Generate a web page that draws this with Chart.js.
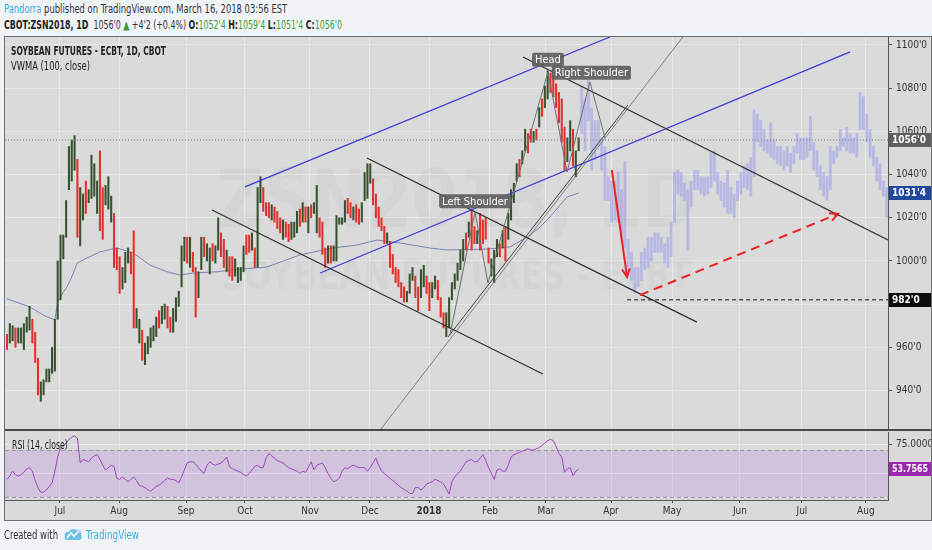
<!DOCTYPE html>
<html>
<head>
<meta charset="utf-8">
<title>ZSN2018, 1D</title>
<script src="https://cdn.jsdelivr.net/npm/chart.js@4.4.1/dist/chart.umd.min.js"></script>
<style>
  html, body { margin: 0; padding: 0; }
  body { width: 932px; height: 550px; background: #f1f4f7; position: relative; overflow: hidden;
         font-family: 'Liberation Sans Narrow', 'DejaVu Sans Condensed', 'Liberation Sans', sans-serif; color: #333; }
  .t { position: absolute; display: inline-block; white-space: nowrap; transform-origin: 0 0; font-size: 12px; line-height: 14px; z-index: 5; }
  #frame { position: absolute; left: 4px; top: 36px; width: 926px; height: 483px; border: 1px solid #6e6e6e; background: #dadada; }
  .pane { position: absolute; left: 5px; width: 926px; }
  #mainBox { top: 37px; height: 392px; }
  #rsiBox { top: 431px; height: 89px; }
  #sep { position: absolute; left: 5px; top: 429px; width: 926px; height: 2px; background: #4a4a4a; z-index: 3; }
  .g { color: #3a9d3a; }
  .b { font-weight: bold; color: #222; }
</style>
</head>
<body>
<div class="t" id="line1" style="left:4px;top:2px;"><span style="color:#3aaee0">Pandorra</span> published on TradingView.com, March 16, 2018 03:56 EST</div>
<div class="t" id="line2" style="left:4px;top:18px;"><span class="b">CBOT:ZSN2018, 1D</span>&nbsp; 1056'0 <span class="g">&#9650;</span> +4'2 (+0.4%) <span class="b">O:</span><span class="g">1052'4</span> <span class="b">H:</span><span class="g">1059'4</span> <span class="b">L:</span><span class="g">1051'4</span> <span class="b">C:</span><span class="g">1056'0</span></div>

<div id="frame"></div>
<div class="pane" id="mainBox"><canvas id="mainChart"></canvas></div>
<div id="sep"></div>
<div class="pane" id="rsiBox"><canvas id="rsiChart"></canvas></div>

<div class="t b" id="title" style="left:11px;top:44px;">SOYBEAN FUTURES - ECBT, 1D, CBOT</div>
<div class="t" id="vwmaLbl" style="left:11px;top:59px;color:#222">VWMA (100, close)</div>
<div class="t" id="rsiLbl" style="left:12px;top:438px;color:#222">RSI (14, close)</div>

<div class="t" id="created" style="left:4px;top:528px;color:#333">Created with</div>
<svg style="position:absolute;left:64px;top:527px" width="19" height="15" viewBox="0 0 19 15">
  <path d="M4 13 C1 13 0 11 1 9 C0 6 3 4 5 5 C6 2 10 1 12 3 C15 2 18 5 17 8 C19 10 17 13 15 13 Z" fill="#6cc3ea"/>
  <path d="M3 11 L7 6 L10 9 L15 4" stroke="#fff" stroke-width="1.6" fill="none"/>
</svg>
<div class="t" id="tvName" style="left:86px;top:528px;color:#3aaee0">TradingView</div>

<script>
const FONT = "'Liberation Sans Narrow', 'DejaVu Sans Condensed', 'Liberation Sans', sans-serif";

// ---- data (daily bars, CBOT:ZSN2018) ----
const highs = [
  966, 971, 970, 969, 969, 969, 971, 974, 979, 973,
  967, 955, 944, 945, 950, 950, 960, 973, 1000, 1012,
  1012, 1028, 1053, 1056, 1058, 1047, 1034, 1031, 1037, 1033,
  1049, 1045, 1037, 1051, 1034, 1035, 1039, 1030, 1022, 1006,
  1002, 997, 1004, 1006, 1004, 1014, 978, 973, 968, 962,
  965, 969, 970, 974, 977, 979, 980, 979, 974, 978,
  983, 986, 1007, 1011, 1011, 1011, 1004, 997, 995, 1011,
  1011, 1008, 1006, 1008, 1007, 1020, 1013, 1010, 1005, 1002,
  1002, 1001, 997, 997, 1007, 1012, 1012, 1013, 1006, 1034,
  1039, 1034, 1027, 1027, 1026, 1025, 1023, 1020, 1019, 1018,
  1017, 1018, 1018, 1023, 1024, 1027, 1025, 1025, 1026, 1027,
  1035, 1020, 1018, 1006, 1007, 1007, 1007, 1021, 1020, 1020,
  1028, 1029, 1027, 1025, 1026, 1024, 1027, 1041, 1045, 1045,
  1038, 1031, 1025, 1020, 1016, 1013, 1009, 1003, 997, 996,
  990, 988, 986, 994, 997, 993, 988, 996, 998, 993,
  990, 990, 993, 991, 983, 976, 976, 983, 990, 994,
  999, 1005, 1010, 1013, 1018, 1024, 1016, 1014, 1022, 1019,
  1020, 1006, 1001, 1005, 1010, 1008, 1014, 1016, 1022, 1033,
  1036, 1045, 1047, 1051, 1061, 1059, 1061, 1060, 1061, 1071,
  1075, 1081, 1088, 1087, 1086, 1082, 1078, 1075, 1062, 1057,
  1065, 1061, 1051, 1057
];
const lows = [
  959, 962, 963, 960, 962, 962, 959, 967, 968, 962,
  953, 938, 935, 938, 944, 944, 948, 949, 973, 982,
  1001, 1011, 1033, 1037, 1042, 1011, 1007, 1019, 1022, 1027,
  1029, 1030, 1022, 1014, 1010, 1026, 1024, 1018, 997, 996,
  985, 987, 990, 999, 994, 969, 969, 962, 954, 952,
  957, 960, 963, 965, 969, 971, 973, 969, 967, 967,
  972, 979, 988, 1000, 999, 997, 995, 974, 983, 996,
  1002, 1000, 994, 1000, 999, 1005, 1002, 997, 995, 993,
  991, 993, 990, 991, 995, 1003, 1004, 1005, 997, 997,
  1027, 1023, 1021, 1020, 1019, 1018, 1015, 1013, 1010, 1011,
  1009, 1010, 1011, 1013, 1016, 1018, 1018, 1013, 1020, 1022,
  1013, 1011, 1003, 997, 999, 999, 1000, 1000, 1017, 1017,
  1018, 1022, 1020, 1019, 1018, 1017, 1018, 1028, 1029, 1036,
  1026, 1020, 1016, 1014, 1008, 1008, 997, 994, 990, 988,
  983, 981, 981, 985, 991, 983, 977, 983, 988, 985,
  977, 983, 987, 982, 974, 969, 965, 969, 982, 987,
  991, 996, 1000, 1005, 1011, 1005, 1008, 1008, 1005, 1008,
  1010, 999, 993, 990, 1002, 1002, 1006, 1000, 1010, 1019,
  1027, 1037, 1039, 1045, 1051, 1050, 1055, 1055, 1056, 1062,
  1067, 1071, 1075, 1078, 1076, 1071, 1064, 1055, 1042, 1046,
  1051, 1044, 1039, 1051
];
// 1 = bar closed up, 0 = closed down
const ups = [
  0, 1, 1, 0, 1, 1, 1, 1, 1, 0,
  0, 0, 1, 1, 1, 1, 1, 1, 1, 1,
  1, 1, 1, 1, 1, 0, 1, 1, 0, 1,
  1, 1, 1, 0, 0, 1, 1, 1, 0, 0,
  0, 1, 1, 1, 0, 0, 1, 1, 0, 1,
  1, 1, 1, 1, 0, 1, 1, 0, 0, 1,
  1, 1, 1, 1, 0, 1, 0, 0, 1, 1,
  0, 1, 1, 0, 1, 1, 0, 0, 1, 0,
  0, 1, 1, 1, 1, 0, 0, 1, 0, 1,
  1, 0, 0, 0, 1, 0, 0, 0, 1, 0,
  0, 1, 1, 1, 0, 1, 0, 1, 0, 1,
  1, 0, 0, 0, 1, 0, 1, 1, 1, 1,
  1, 0, 0, 1, 0, 0, 1, 1, 1, 1,
  0, 0, 0, 0, 0, 1, 0, 0, 0, 0,
  0, 0, 1, 1, 1, 0, 0, 1, 1, 0,
  0, 1, 1, 0, 0, 0, 1, 1, 1, 1,
  1, 1, 1, 0, 1, 0, 0, 1, 0, 0,
  0, 0, 1, 1, 1, 0, 1, 0, 1, 1,
  1, 1, 0, 1, 1, 0, 0, 1, 0, 1,
  0, 1, 1, 0, 0, 0, 0, 0, 0, 1,
  1, 0, 1, 1
];

// projected "ghost" bars pattern after the last real bar
const ghostHighs = [
  1081, 1075, 1084, 1071, 1065, 1065, 1057, 1053, 1039, 1037,
  1037, 1041, 1033, 1046, 1010, 1004, 997, 997, 1004, 1006,
  1011, 1011, 1013, 1013, 1011, 1008, 1011, 1018, 1041, 1042,
  1041, 1036, 1033, 1037, 1042, 1042, 1039, 1039, 1039, 1050,
  1051, 1041, 1037, 1036, 1042, 1034, 1031, 1037, 1041, 1044,
  1045, 1048, 1070, 1068, 1065, 1061, 1056, 1064, 1056, 1053,
  1053, 1051, 1053, 1050, 1053, 1059, 1057, 1057, 1057, 1067,
  1055, 1051, 1044, 1041, 1039, 1053, 1051, 1053, 1061, 1057,
  1062, 1059, 1057, 1059, 1078, 1076, 1068, 1061, 1053, 1048,
  1045, 1037, 1034
];
const ghostLows = [
  1059, 1051, 1065, 1042, 1047, 1053, 1042, 1028, 1028, 1018,
  1019, 1018, 1011, 1006, 997, 991, 985, 988, 991, 996,
  997, 1000, 1004, 1004, 1004, 999, 997, 1002, 1018, 1031,
  1030, 1028, 1005, 1025, 1033, 1033, 1031, 1030, 1031, 1034,
  1037, 1031, 1028, 1025, 1022, 1022, 1020, 1028, 1031, 1034,
  1033, 1030, 1039, 1055, 1053, 1051, 1050, 1048, 1047, 1045,
  1044, 1042, 1044, 1041, 1045, 1050, 1047, 1047, 1048, 1051,
  1042, 1039, 1033, 1030, 1028, 1033, 1045, 1048, 1051, 1053,
  1051, 1050, 1050, 1048, 1061, 1061, 1055, 1048, 1044, 1037,
  1033, 1030, 1020
];

// VWMA (100, close), read at bar positions
const vwmaIdx = [0, 8.2, 12.8, 17, 18, 20, 21.3, 23, 24.9, 28.4, 33, 39, 44.8, 50.8, 56.8, 61.4, 66, 74.6, 79.2,
  92.3, 104, 115.8, 124.3, 131.4, 139.6, 150.2, 156.3, 170.5, 178.6, 184.7, 189.3, 192.8, 198.9, 203];
const vwmaVals = [982.5, 978.7, 975, 972.7, 981, 985.6, 988, 992.6, 999, 1001.4, 1004.2, 1006, 1003.7, 998.1, 995, 993.5, 994.4, 995, 995.8,
  997.2, 1002.8, 1006, 1007.4, 1009.7, 1008.3, 1006, 1005.1, 1005.5, 1006.5, 1011, 1015.7, 1020.4, 1029.6, 1031.5];

// RSI (14, close)
const rsiValues = [
  45, 48, 52, 49, 48, 49, 51, 54, 55, 52,
  44, 38, 34, 34, 36, 39, 42, 52, 64, 72,
  73, 76, 79, 81, 82, 80, 59, 62, 61, 60,
  63, 65, 66, 62, 57, 53, 55, 57, 56, 46,
  45, 47, 45, 43, 45, 47, 44, 40, 39, 38,
  36, 35, 37, 39, 40, 42, 44, 46, 45, 45,
  44, 42, 47, 53, 59, 60, 60, 58, 55, 52,
  50, 57, 60, 58, 57, 58, 59, 61, 64, 56,
  54, 53, 52, 51, 49, 48, 50, 53, 56, 57,
  55, 55, 63, 67, 65, 63, 61, 60, 59, 57,
  55, 54, 53, 52, 50, 52, 51, 55, 60, 53,
  57, 58, 59, 55, 50, 46, 43, 44, 46, 52,
  55, 54, 56, 57, 56, 55, 55, 55, 52, 55,
  59, 63, 57, 52, 50, 48, 46, 44, 42, 40,
  38, 36.5, 35, 33, 33, 38, 38, 36, 38, 41,
  42, 43, 45, 44, 43, 41, 37, 32.5, 43, 47,
  50, 52, 56, 60, 61, 62, 60, 60, 63, 66,
  61, 55, 50, 45, 53, 54, 52, 52, 57, 64,
  66, 67, 68, 69, 70, 71, 70, 70, 71, 72,
  74, 76, 78, 79, 78, 73, 67, 64, 51, 54,
  55, 48, 52, 53.7565
];

const monthLabels = ['Jul', 'Aug', 'Sep', 'Oct', 'Nov', 'Dec', '2018', 'Feb', 'Mar', 'Apr', 'May', 'Jun', 'Jul', 'Aug'];
const monthPos = [18.8, 39.8, 63.6, 84.5, 107.6, 128.9, 149.9, 171.5, 191.4, 214.5, 236.2, 260.3, 282.3, 305.0];
const priceTicks = [940, 960, 980, 1000, 1020, 1040, 1060, 1080, 1100];

const lastClose = 1056;
const lastVwma = 1031.5;
const targetLevel = 982;
const lastRsi = 53.7565;

// drawings on the chart, in [bar index, price]
const blueUpper = [[84.5, 1034.3], [214.1, 1103.7]];
const blueLower = [[111.2, 994.4], [299.4, 1096.8]];
const headLine = [[183.2, 1094.4], [312.9, 1009.7]];
const channelA = [[72.8, 1023.6], [190.3, 947.7]];
const channelB = [[127.8, 1047.7], [245, 971.7]];
const trendThin = [[132.5, 921.7], [240, 1103.7]];
const trendDark = [[156.6, 964.8], [220.5, 1072.2]];
const hsZigzag = [[157.3, 965.7], [166.2, 1022.7], [170.8, 989.8], [192.1, 1087.5], [198.9, 1041.2], [207, 1082.9], [212.4, 1056.9]];
const dropArrow = [[214.8, 1042.1], [220.2, 992.6]];
const riseArrow = [[224.8, 984.2], [295.1, 1021.8]];
const levelStart = 220.2;
const patternLabels = [
  { text: 'Left Shoulder', at: [166.2, 1027.6] },
  { text: 'Head', at: [192.1, 1093.2] },
  { text: 'Right Shoulder', at: [207.5, 1087.2] }
];

const X_MIN = -0.71, X_MAX = 312.86;
const ghostStart = 204.1, ghostStep = 1.177;

// ---- helpers ----
function px(chart, p) {
  return [chart.scales.x.getPixelForValue(p[0]), chart.scales.y.getPixelForValue(p[1])];
}
function path(ctx, chart, pts, color, width, dash) {
  ctx.save();
  ctx.strokeStyle = color;
  ctx.lineWidth = width;
  ctx.setLineDash(dash || []);
  ctx.beginPath();
  pts.forEach((p, i) => {
    const [X, Y] = px(chart, p);
    if (i) ctx.lineTo(X, Y); else ctx.moveTo(X, Y);
  });
  ctx.stroke();
  ctx.restore();
}
function arrowHead(ctx, chart, pts, color, width) {
  const [x1, y1] = px(chart, pts[0]);
  const [x2, y2] = px(chart, pts[1]);
  const a = Math.atan2(y2 - y1, x2 - x1);
  ctx.save();
  ctx.strokeStyle = color;
  ctx.lineWidth = width;
  ctx.beginPath();
  ctx.moveTo(x2 - 9 * Math.cos(a - 0.45), y2 - 9 * Math.sin(a - 0.45));
  ctx.lineTo(x2, y2);
  ctx.lineTo(x2 - 9 * Math.cos(a + 0.45), y2 - 9 * Math.sin(a + 0.45));
  ctx.stroke();
  ctx.restore();
}
function tag(ctx, scale, area, value, text, bg) {
  const y = Math.round(scale.getPixelForValue(value));
  ctx.save();
  ctx.fillStyle = bg;
  ctx.fillRect(area.right + 1, y - 7, 42, 14);
  ctx.fillStyle = '#fff';
  ctx.font = 'bold 10px ' + FONT;
  ctx.textBaseline = 'middle';
  const w = ctx.measureText(text).width;
  ctx.translate(area.right + 4, y + 0.5);
  if (w > 36) ctx.scale(36 / w, 1);
  ctx.fillText(text, 0, 0);
  ctx.restore();
}
function fmtPrice(v) {
  const whole = Math.floor(v);
  return whole + "'" + Math.round((v - whole) * 8);
}
// keep the plot area exactly where the panes are
function noPad(s) {
  s.paddingTop = 0; s.paddingBottom = 0; s.paddingLeft = 0; s.paddingRight = 0;
}

const mainOverlay = {
  id: 'mainOverlay',
  beforeDatasetsDraw(chart) {
    const { ctx, chartArea: a } = chart;
    const cx = (a.left + a.right) / 2 + 10;
    ctx.save();
    ctx.fillStyle = 'rgba(0,0,0,0.028)';
    ctx.textAlign = 'center';
    ctx.font = 'bold 80px ' + FONT;
    let w = ctx.measureText('ZSN2018, 1D').width;
    ctx.translate(cx, a.top + 190);
    ctx.scale(480 / w, 1);
    ctx.fillText('ZSN2018, 1D', 0, 0);
    ctx.restore();
    ctx.save();
    ctx.fillStyle = 'rgba(0,0,0,0.028)';
    ctx.textAlign = 'center';
    ctx.font = 'bold 40px ' + FONT;
    w = ctx.measureText('SOYBEAN FUTURES - ECBT').width;
    ctx.translate(cx, a.top + 252);
    ctx.scale(470 / w, 1);
    ctx.fillText('SOYBEAN FUTURES - ECBT', 0, 0);
    ctx.restore();
  },
  afterDatasetsDraw(chart) {
    const { ctx, chartArea: a } = chart;
    ctx.save();
    ctx.beginPath();
    ctx.rect(a.left, a.top, a.right - a.left, a.bottom - a.top);
    ctx.clip();
    path(ctx, chart, [[X_MIN, lastClose], [X_MAX, lastClose]], '#7a7a7a', 1, [1, 2]);
    path(ctx, chart, blueUpper, '#3a3ad8', 1.2);
    path(ctx, chart, blueLower, '#3a3ad8', 1.2);
    path(ctx, chart, headLine, '#2e2e2e', 1.2);
    path(ctx, chart, channelA, '#2e2e2e', 1.2);
    path(ctx, chart, channelB, '#2e2e2e', 1.2);
    path(ctx, chart, trendThin, '#6a6a6a', 0.8);
    path(ctx, chart, trendDark, '#444', 1);
    path(ctx, chart, hsZigzag, '#6e6e6e', 1);
    path(ctx, chart, [[levelStart, targetLevel], [X_MAX, targetLevel]], '#111', 1, [4, 3]);
    path(ctx, chart, dropArrow, '#ee2020', 2);
    arrowHead(ctx, chart, dropArrow, '#ee2020', 2);
    path(ctx, chart, riseArrow, '#ee2020', 2, [9, 6]);
    arrowHead(ctx, chart, riseArrow, '#ee2020', 2);
    ctx.restore();

    ctx.save();
    ctx.font = '11px ' + FONT;
    ctx.textAlign = 'center';
    ctx.textBaseline = 'middle';
    patternLabels.forEach(l => {
      const [X, Y] = px(chart, l.at);
      const w = ctx.measureText(l.text).width + 6;
      ctx.fillStyle = 'rgba(95,95,95,0.92)';
      ctx.beginPath();
      ctx.roundRect(X - w / 2, Y - 7, w, 14, 2);
      ctx.fill();
      ctx.fillStyle = '#fff';
      ctx.fillText(l.text, X, Y + 0.5);
    });
    ctx.restore();
  },
  afterDraw(chart) {
    const { ctx, chartArea: a } = chart;
    const ys = chart.scales.y;
    tag(ctx, ys, a, lastClose, fmtPrice(lastClose), '#5f5f5f');
    tag(ctx, ys, a, lastVwma, fmtPrice(lastVwma), '#22489e');
    tag(ctx, ys, a, targetLevel, fmtPrice(targetLevel), '#0c0c0c');
  }
};

const rsiOverlay = {
  id: 'rsiOverlay',
  beforeDatasetsDraw(chart) {
    const { ctx, chartArea: a } = chart;
    const ys = chart.scales.y;
    const y70 = ys.getPixelForValue(70), y30 = ys.getPixelForValue(30);
    ctx.save();
    ctx.fillStyle = 'rgba(149,0,255,0.1)';
    ctx.fillRect(a.left, y70, a.right - a.left, y30 - y70);
    ctx.strokeStyle = '#9a9a9a';
    ctx.lineWidth = 1;
    ctx.setLineDash([4, 3]);
    [y70, y30].forEach(y => {
      ctx.beginPath();
      ctx.moveTo(a.left, Math.round(y) + 0.5);
      ctx.lineTo(a.right, Math.round(y) + 0.5);
      ctx.stroke();
    });
    ctx.restore();
  },
  afterDraw(chart) {
    tag(chart.ctx, chart.scales.y, chart.chartArea, lastRsi, lastRsi.toFixed(4), '#9c27b0');
  }
};

// ---- main price pane ----
new Chart(document.getElementById('mainChart'), {
  type: 'bar',
  data: {
    datasets: [
      {
        type: 'line',
        data: vwmaIdx.map((x, i) => ({ x, y: vwmaVals[i] })),
        borderColor: '#7c80b4',
        borderWidth: 1,
        pointRadius: 0,
        order: 3
      },
      {
        data: ghostHighs.map((h, k) => ({ x: ghostStart + k * ghostStep, y: [ghostLows[k], h] })),
        backgroundColor: 'rgba(150,150,240,0.5)',
        barThickness: 2.2,
        grouped: false,
        order: 4
      },
      {
        data: highs.map((h, i) => ({ x: i, y: [lows[i], h] })),
        backgroundColor: ups.map(u => u ? '#37522f' : '#e2302b'),
        barThickness: 1.4,
        grouped: false,
        order: 1
      }
    ]
  },
  options: {
    responsive: true,
    maintainAspectRatio: false,
    animation: false,
    layout: { padding: 0 },
    plugins: { legend: { display: false }, tooltip: { enabled: false } },
    scales: {
      x: {
        type: 'linear',
        min: X_MIN,
        max: X_MAX,
        offset: false,
        afterBuildTicks: s => { s.ticks = monthPos.map(v => ({ value: v })); },
        ticks: { display: false },
        grid: { color: '#e8e8e8', drawTicks: false, offset: false },
        border: { display: false },
        afterFit: s => { s.height = 0; noPad(s); }
      },
      y: {
        position: 'right',
        min: 922.2,
        max: 1103.7,
        afterBuildTicks: s => { s.ticks = priceTicks.map(v => ({ value: v })); },
        ticks: { callback: v => v + "'0", color: '#333', font: { size: 10, family: FONT }, padding: 4 },
        grid: { color: '#e8e8e8', tickLength: 4, tickColor: '#555' },
        border: { display: true, color: '#555' },
        afterFit: s => { s.width = 43; noPad(s); }
      }
    }
  },
  plugins: [mainOverlay]
});

// ---- RSI pane ----
new Chart(document.getElementById('rsiChart'), {
  type: 'line',
  data: {
    datasets: [{
      data: rsiValues.map((v, i) => ({ x: i, y: v })),
      borderColor: '#9b45bf',
      borderWidth: 1,
      pointRadius: 0
    }]
  },
  options: {
    responsive: true,
    maintainAspectRatio: false,
    animation: false,
    layout: { padding: { top: 1 } },
    plugins: { legend: { display: false }, tooltip: { enabled: false } },
    scales: {
      x: {
        type: 'linear',
        min: X_MIN,
        max: X_MAX,
        afterBuildTicks: s => { s.ticks = monthPos.map(v => ({ value: v })); },
        ticks: {
          autoSkip: false,
          maxRotation: 0,
          padding: 2,
          color: '#333',
          callback: (v, i) => monthLabels[i],
          font: c => ({ size: 10, family: FONT, weight: c.tick && c.tick.value === monthPos[6] ? 'bold' : 'normal' })
        },
        grid: { color: '#e8e8e8', tickLength: 3, tickColor: '#555' },
        border: { display: true, color: '#555' },
        afterFit: s => { s.height = 20; noPad(s); }
      },
      y: {
        position: 'right',
        min: 27.45,
        max: 85.3,
        afterBuildTicks: s => { s.ticks = [{ value: 50 }, { value: 75 }]; },
        ticks: { callback: v => (v === 75 ? '75.0000' : ''), color: '#333', font: { size: 10, family: FONT }, padding: 4 },
        grid: { color: '#ececec', tickLength: 4, tickColor: '#555' },
        border: { display: true, color: '#555' },
        afterFit: s => { s.width = 43; noPad(s); }
      }
    }
  },
  plugins: [rsiOverlay]
});

// fit header / footer texts to the widths they take in the original
function fit(id, w) {
  const el = document.getElementById(id);
  el.style.transform = 'scaleX(' + (w / el.scrollWidth) + ')';
}
fit('line1', 283);
fit('line2', 338);
fit('title', 155);
fit('vwmaLbl', 79);
fit('rsiLbl', 56);
fit('created', 54);
fit('tvName', 53);
</script>
</body>
</html>
